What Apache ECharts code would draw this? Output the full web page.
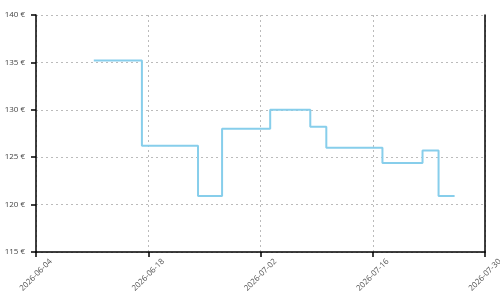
<!DOCTYPE html>
<html>
<head>
<meta charset="utf-8">
<script src="https://cdn.jsdelivr.net/npm/echarts@6/dist/echarts.min.js"></script>
<style>html,body{margin:0;padding:0;background:#fff}#c{width:500px;height:300px}</style>
</head>
<body>
<div id="c"></div>
<script>
const dates = ['2026-06-11T05:00','2026-06-17T05:00','2026-06-24T05:00','2026-06-27T05:00','2026-07-03T05:00','2026-07-08T05:00','2026-07-10T05:00','2026-07-17T05:00','2026-07-22T05:00','2026-07-24T05:00','2026-07-26T05:00'];
const prices = [135.2, 126.2, 120.9, 128, 130, 128.2, 126, 124.4, 125.7, 120.9, 120.9];
const xMin = '2026-06-04';
const xMax = '2026-07-30';
const yTicks = [115, 120, 125, 130, 135, 140];

const DAY = 86400000;
const ts = s => Date.parse((s.length === 10 ? s + 'T00:00' : s) + ':00Z');
const pad = n => (n < 10 ? '0' : '') + n;
const fmt = v => { const d = new Date(v); return d.getUTCFullYear() + '-' + pad(d.getUTCMonth() + 1) + '-' + pad(d.getUTCDate()); };

const chart = echarts.init(document.getElementById('c'), null, {renderer: 'canvas'});
const split = {show: true, lineStyle: {color: '#bbb', type: [2, 3], width: 1}};
chart.setOption({
  animation: false,
  grid: {left: 36, right: 15, top: 15, bottom: 48, containLabel: false, outerBoundsMode: 'none'},
  xAxis: {
    type: 'value', min: ts(xMin), max: ts(xMax), interval: 14 * DAY,
    axisLine: {show: true, lineStyle: {color: '#000', width: 1.5}},
    axisTick: {show: true, length: 5, lineStyle: {color: '#000', width: 1.5}},
    axisLabel: {rotate: 45, formatter: fmt, margin: 23, align: 'center', verticalAlign: 'middle',
      fontSize: 8, color: '#555', fontFamily: 'Open Sans'},
    splitLine: split
  },
  yAxis: [{
    type: 'value', min: yTicks[0], max: yTicks[yTicks.length - 1], interval: 5,
    axisLine: {show: true, lineStyle: {color: '#000', width: 1.5}},
    axisTick: {show: true, length: 5, lineStyle: {color: '#000', width: 1.5}},
    axisLabel: {formatter: v => v + ' €', margin: 11, fontSize: 8, color: '#444', fontFamily: 'Open Sans'},
    splitLine: split
  }, {
    type: 'value', position: 'right', min: yTicks[0], max: yTicks[yTicks.length - 1], interval: 5,
    axisLine: {show: true, lineStyle: {color: '#000', width: 1.5}},
    axisTick: {show: false}, axisLabel: {show: false}, splitLine: {show: false}
  }],
  series: [{
    type: 'line', step: 'end', showSymbol: false, symbol: 'none',
    lineStyle: {color: '#87ceeb', width: 2},
    data: dates.map((d, i) => [ts(d), prices[i]])
  }]
});
</script>
</body>
</html>
